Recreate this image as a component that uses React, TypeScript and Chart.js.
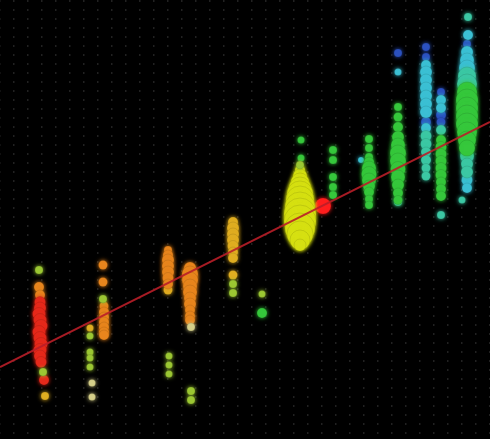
import React, { useEffect, useRef } from "react";
import { Chart, registerables } from "chart.js";

Chart.register(...registerables);

// Each point: [x, y, r]
const redPoints: number[][] = [
  [4.0, 13.7, 5.5], [4.0, 13.1, 6], [3.9, 12.5, 6.5], [4.0, 11.9, 6.5], [4.1, 11.3, 6.5],
  [3.9, 10.7, 6.5], [4.0, 10.1, 6.5], [4.1, 9.5, 6.5], [4.0, 8.9, 6.5], [4.0, 8.3, 6],
  [4.1, 7.7, 5.5], [4.4, 5.9, 5],
];
const orangePoints: number[][] = [
  [3.9, 15.2, 5], [4.0, 14.4, 5],
  [10.3, 17.4, 4.5], [10.3, 15.7, 4.5], [10.4, 13.3, 4.5], [10.4, 12.7, 5], [10.4, 12.2, 5],
  [10.4, 11.7, 5], [10.4, 11.2, 5], [10.4, 10.7, 5], [10.4, 10.4, 5],
  [16.8, 18.9, 4], [16.8, 18.4, 5], [16.8, 17.9, 6], [16.8, 17.3, 6], [16.8, 16.7, 6],
  [16.8, 16.1, 5.5], [16.8, 15.5, 5],
  [19.0, 17.1, 6], [19.0, 16.5, 8], [19.0, 15.9, 8], [19.0, 15.3, 7], [19.0, 14.7, 7],
  [19.0, 14.1, 6], [19.0, 13.5, 6], [19.0, 12.9, 5], [19.0, 12.3, 5], [19.0, 11.9, 5],
];
const amberPoints: number[][] = [
  [16.8, 14.9, 4.5],
  [23.3, 21.7, 5], [23.3, 21.1, 6], [23.3, 20.5, 6], [23.3, 19.9, 6], [23.3, 19.3, 5.5],
  [23.3, 18.7, 5], [23.3, 18.1, 5], [23.3, 16.4, 4.5], [9.0, 11.1, 3.5], [4.5, 4.3, 4],
];
const yellowPoints: number[][] = [
  [30.0, 26.9, 5], [30.0, 26.3, 7], [30.0, 25.7, 9], [30.0, 25.1, 11], [30.0, 24.5, 13],
  [30.0, 23.9, 14], [30.0, 23.2, 15], [30.0, 22.5, 16], [30.0, 21.8, 16], [30.0, 21.1, 15],
  [30.0, 20.5, 13], [30.0, 19.9, 10], [30.0, 19.4, 6],
];
const limePoints: number[][] = [
  [3.9, 16.9, 4], [4.3, 6.7, 4],
  [9.0, 10.3, 3.5], [9.0, 8.7, 3.5], [9.0, 8.1, 3.5], [9.0, 7.2, 3.5],
  [10.3, 14.0, 4],
  [16.9, 8.3, 3.5], [16.9, 7.4, 3.5], [16.9, 6.5, 3.5],
  [19.1, 4.8, 4], [19.1, 3.9, 4],
  [23.3, 15.5, 4], [23.3, 14.6, 4],
  [26.2, 14.5, 3.5], [30.0, 27.4, 4],
];
const palePoints: number[][] = [
  [9.2, 5.6, 3.5], [9.2, 4.2, 3.5], [19.1, 11.2, 4],
];
const greenPoints: number[][] = [
  [26.2, 12.6, 5],
  [30.1, 29.9, 3.5], [30.1, 28.1, 3.5],
  [33.3, 28.9, 4], [33.3, 27.9, 4], [33.3, 26.2, 4], [33.3, 25.2, 4], [33.3, 24.4, 4],
  [36.9, 30.0, 4], [36.9, 29.1, 4], [36.9, 28.2, 4], [36.9, 27.7, 5], [36.9, 27.1, 7],
  [36.9, 26.5, 7.5], [36.9, 25.9, 7], [36.9, 25.3, 6], [36.9, 24.7, 5], [36.9, 24.0, 4], [36.9, 23.4, 4],
  [39.8, 33.2, 4], [39.8, 32.2, 4.5], [39.8, 31.2, 5], [39.8, 30.2, 6], [39.8, 29.4, 7],
  [39.8, 28.6, 8], [39.8, 27.8, 8], [39.8, 27.0, 7.5], [39.8, 26.2, 7], [39.8, 25.4, 6],
  [39.8, 24.6, 5], [39.8, 23.9, 4.5],
  [44.1, 29.9, 5], [44.1, 29.2, 5.5], [44.1, 28.5, 5.5], [44.1, 27.8, 5.5], [44.1, 27.1, 5.5],
  [44.1, 26.4, 5.5], [44.1, 25.7, 5], [44.1, 25.0, 5], [44.1, 24.3, 5],
  [46.7, 34.7, 10], [46.7, 33.9, 11], [46.7, 33.1, 11], [46.7, 32.3, 11], [46.7, 31.5, 11],
  [46.7, 30.7, 10], [46.7, 29.9, 9], [46.7, 29.1, 8],
];
const tealPoints: number[][] = [
  [42.6, 30.3, 5.5], [42.6, 29.5, 5.5], [42.6, 28.7, 5], [42.6, 27.9, 5], [42.6, 27.1, 4.5],
  [42.6, 26.3, 4.5], [44.1, 30.9, 5],
  [46.7, 36.3, 9], [46.7, 35.5, 10], [46.7, 28.3, 7], [46.7, 27.5, 6], [46.7, 26.7, 6],
  [39.8, 23.7, 4], [44.1, 22.4, 4], [46.2, 23.9, 3.5], [46.8, 42.2, 4],
];
const cyanPoints: number[][] = [
  [36.1, 27.9, 3],
  [39.8, 36.7, 3.5],
  [42.6, 37.4, 5], [42.6, 36.7, 6], [42.6, 35.9, 6], [42.6, 35.1, 6], [42.6, 34.3, 6],
  [42.6, 33.5, 6], [42.6, 32.7, 6], [42.6, 31.1, 5],
  [44.1, 33.9, 5], [44.1, 33.1, 5],
  [46.8, 40.4, 5], [46.7, 38.7, 6], [46.7, 37.9, 7], [46.7, 37.1, 8],
  [46.7, 25.9, 5.5], [46.7, 25.1, 5],
];
const bluePoints: number[][] = [
  [39.8, 38.6, 4], [42.6, 39.2, 4], [42.6, 38.2, 4], [42.6, 31.7, 5],
  [44.1, 34.7, 4], [44.1, 32.4, 5], [44.1, 31.7, 4.5], [46.7, 39.5, 4],
];
const meanPoint: number[][] = [[32.3, 23.3, 8]];

const trendX = [0, 49];
const trendY = [7.2, 31.7];

const toBubble = (pts: number[][]) => pts.map(([x, y, r]) => ({ x, y, r }));

export default function App() {
  const ref = useRef<HTMLCanvasElement | null>(null);

  useEffect(() => {
    document.body.style.margin = "0";
    document.body.style.background = "#000";
    const canvas = ref.current;
    if (!canvas) return;

    const glow = {
      id: "glow",
      beforeDatasetDraw(chart: any, args: any) {
        const ctx = chart.ctx;
        const ds = chart.data.datasets[args.index];
        ctx.save();
        if (ds.type !== "line") {
          ctx.shadowColor = ds.backgroundColor;
          ctx.shadowBlur = 4;
        }
      },
      afterDatasetDraw(chart: any) {
        chart.ctx.restore();
      },
    };

    const bub = (pts: number[][], color: string) => ({
      type: "bubble" as const,
      data: toBubble(pts),
      backgroundColor: color,
      borderColor: "rgba(0,0,0,0.10)",
      borderWidth: 1,
    });

    const chart = new Chart(canvas, {
      type: "bubble",
      data: {
        datasets: [
          {
            type: "line",
            data: trendX.map((x, i) => ({ x, y: trendY[i] })),
            borderColor: "rgba(185,30,40,0.9)",
            borderWidth: 2,
            pointRadius: 0,
            fill: false,
          } as any,
          bub(palePoints, "#d6d08a"),
          bub(limePoints, "#9cc834"),
          bub(redPoints, "#e62a1c"),
          bub(orangePoints, "#e8861e"),
          bub(amberPoints, "#e0ae22"),
          bub(yellowPoints, "#d6e012"),
          bub(greenPoints, "#36c83c"),
          bub(tealPoints, "#3cc8a4"),
          bub(cyanPoints, "#3cc0d4"),
          bub(bluePoints, "#2c52c0"),
          bub(meanPoint, "#ff1e1e"),
        ],
      },
      options: {
        responsive: false,
        animation: false,
        layout: { padding: 0, autoPadding: false },
        plugins: { legend: { display: false }, tooltip: { enabled: false } },
        scales: {
          x: {
            type: "linear",
            min: 0,
            max: 49,
            display: true,
            ticks: { display: false, stepSize: 1.4, maxTicksLimit: 200, autoSkip: false },
            grid: { color: "rgba(255,255,255,0.13)", lineWidth: 1.5, drawTicks: false },
            border: { display: false, dash: [2, 7] },
          },
          y: { type: "linear", min: 0, max: 43.9, display: false },
        },
      },
      plugins: [glow],
    });
    return () => chart.destroy();
  }, []);

  return (
    <div style={{ position: "absolute", left: 0, top: 0, width: 490, height: 439, background: "#000" }}>
      <canvas ref={ref} width={490} height={439} />
    </div>
  );
}
